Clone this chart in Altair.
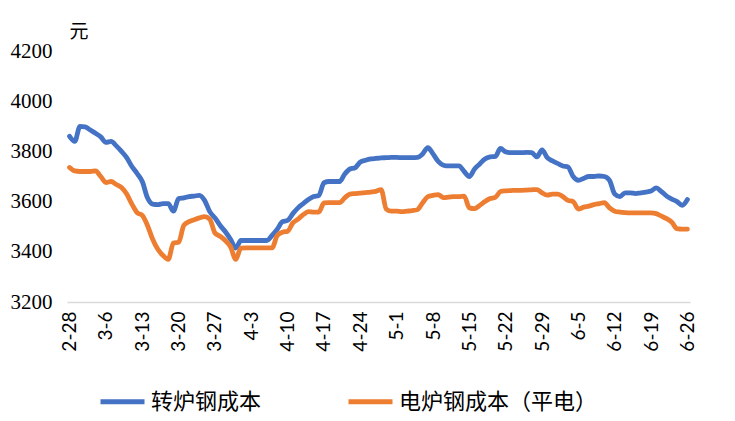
import json
import altair as alt
import pandas as pd

# ---- data ----
tick_labels = ["2-28", "3-6", "3-13", "3-20", "3-27", "4-3", "4-10", "4-17", "4-24",
               "5-1", "5-8", "5-15", "5-22", "5-29", "6-5", "6-12", "6-19", "6-26"]

series_names = ["转炉钢成本", "电炉钢成本（平电）"]
series_colors = ["#4472C4", "#ED7D31"]

bof_cost = [3860, 3840, 3900, 3898, 3885, 3872, 3858, 3836, 3840, 3822,
            3800, 3775, 3740, 3712, 3680, 3615, 3590, 3588, 3592, 3592,
            3562, 3612, 3615, 3620, 3622, 3625, 3605, 3560, 3535, 3505,
            3480, 3450, 3415, 3445, 3445, 3445, 3445, 3445, 3445, 3465,
            3490, 3520, 3525, 3552, 3575, 3592, 3608, 3620, 3624, 3675,
            3680, 3680, 3680, 3710, 3730, 3735, 3758, 3765, 3770, 3772,
            3774, 3775, 3776, 3776, 3775, 3775, 3775, 3776, 3790, 3815, 3790,
            3760, 3745, 3742, 3742, 3742, 3720, 3700, 3730, 3750, 3770,
            3778, 3780, 3812, 3798, 3795, 3795, 3795, 3796, 3795, 3778,
            3806, 3775, 3762, 3752, 3742, 3738, 3700, 3685, 3692, 3700,
            3700, 3702, 3700, 3685, 3630, 3620, 3635, 3635, 3632, 3635,
            3638, 3642, 3655, 3640, 3622, 3610, 3600, 3585, 3608]

eaf_cost = [3736, 3722, 3720, 3720, 3720, 3722, 3700, 3676, 3680, 3668,
            3656, 3630, 3590, 3556, 3545, 3505, 3450, 3410, 3385, 3370,
            3435, 3438, 3505, 3520, 3528, 3535, 3540, 3530, 3475, 3462,
            3445, 3420, 3370, 3415, 3416, 3416, 3416, 3416, 3416, 3416,
            3465, 3478, 3482, 3515, 3530, 3548, 3560, 3558, 3558, 3595,
            3596, 3596, 3596, 3615, 3630, 3632, 3634, 3636, 3638, 3641,
            3648, 3570, 3562, 3562, 3560, 3562, 3564, 3568, 3595, 3620, 3625,
            3628, 3616, 3618, 3620, 3620, 3622, 3575, 3572, 3585, 3600,
            3612, 3617, 3640, 3643, 3644, 3645, 3645, 3646, 3647, 3648,
            3635, 3626, 3630, 3630, 3620, 3605, 3600, 3570, 3578, 3582,
            3588, 3592, 3596, 3575, 3562, 3558, 3556, 3555, 3555, 3555,
            3555, 3555, 3552, 3542, 3532, 3518, 3492, 3490, 3490]

y_ticks = [3200, 3400, 3600, 3800, 4000, 4200]

# ---- build table ----
rows = []
for name, vals in zip(series_names, [bof_cost, eaf_cost]):
    for i, v in enumerate(vals):
        rows.append({"day": i, "series": name, "value": v})
df = pd.DataFrame(rows)

n_days = len(bof_cost)
tick_values = [i * 7 for i in range(len(tick_labels))]
label_expr = json.dumps(tick_labels) + "[round(datum.value / 7)]"

chart = alt.Chart(df).mark_line(
    strokeWidth=4.8, interpolate="monotone", strokeCap="round", strokeJoin="round"
).encode(
    x=alt.X("day:Q",
            scale=alt.Scale(domain=[-0.5, n_days - 0.5], nice=False, zero=False),
            axis=alt.Axis(values=tick_values, labelExpr=label_expr, title=None,
                          labelAngle=270, labelAlign="right", labelBaseline="middle",
                          labelPadding=9, ticks=False, grid=False,
                          domainColor="#d9d9d9", domainWidth=1.5,
                          labelFont="Lato", labelFontSize=19, labelColor="#000000",
                          labelOverlap=False)),
    y=alt.Y("value:Q",
            scale=alt.Scale(domain=[3200, 4200], nice=False, zero=False),
            axis=alt.Axis(values=y_ticks, format="d", title="元", titleAngle=0,
                          titleAlign="left", titleBaseline="middle", titleX=2, titleY=-20,
                          titleFont="Noto Sans CJK SC", titleFontSize=19,
                          titleFontWeight="normal", titleColor="#000000",
                          domain=False, ticks=False, grid=False, labelPadding=15,
                          labelFont="Liberation Serif", labelFontSize=21,
                          labelColor="#000000")),
    color=alt.Color("series:N",
                    scale=alt.Scale(domain=series_names, range=series_colors),
                    sort=series_names,
                    legend=alt.Legend(title=None, orient="none", legendX=31, legendY=326,
                                      direction="horizontal", columns=2,
                                      symbolType="stroke", symbolSize=1936,
                                      symbolStrokeWidth=5, labelFontSize=22,
                                      labelFont="Noto Sans CJK SC", labelColor="#000000",
                                      labelOffset=4, labelLimit=0, columnPadding=76,
                                      padding=0)),
).properties(
    width=623, height=251,
    autosize=alt.AutoSizeParams(type="none"),
    padding={"left": 59, "top": 43, "right": 37, "bottom": 118},
).configure_view(stroke=None)

chart.save("out.html", embed_options={"renderer": "svg", "actions": False})
